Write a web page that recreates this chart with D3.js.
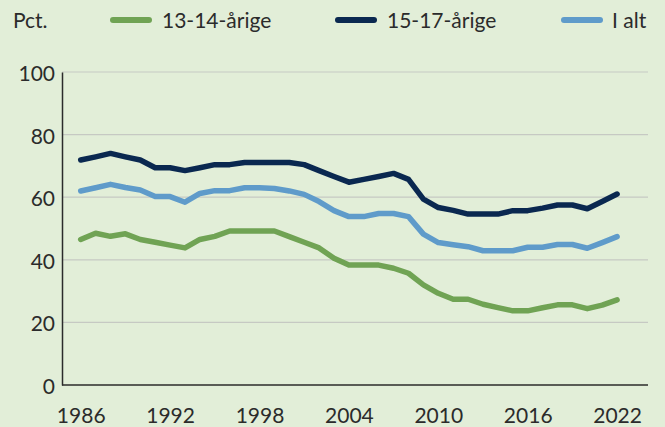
<!DOCTYPE html>
<html><head><meta charset="utf-8">
<script src="https://cdn.jsdelivr.net/npm/d3@7"></script>
<style>
html,body{margin:0;padding:0;background:#e2eed8;}
svg{display:block;font-family:Lato,"Open Sans",sans-serif;}
</style></head><body>
<svg id="c" width="665" height="427"></svg>
<script>
const years = d3.range(1986, 2023);
const seriesNames = ["13-14-årige", "15-17-årige", "I alt"];
const seriesColors = ["#70a354", "#0a2850", "#5f9bca"];
const age1314 = [46.5,48.5,47.5,48.3,46.5,45.6,44.7,43.8,46.5,47.5,49.2,49.2,49.2,49.2,47.4,45.6,43.8,40.5,38.3,38.3,38.3,37.3,35.7,32.0,29.3,27.4,27.4,25.8,24.7,23.7,23.7,24.7,25.6,25.6,24.4,25.5,27.2];
const age1517 = [71.9,72.9,74.0,72.9,71.9,69.4,69.4,68.5,69.4,70.4,70.4,71.1,71.1,71.1,71.1,70.4,68.5,66.6,64.8,65.7,66.6,67.6,65.7,59.4,56.7,55.8,54.6,54.6,54.6,55.7,55.7,56.5,57.5,57.5,56.3,58.6,61.0];
const total = [62.0,63.0,64.1,63.1,62.3,60.2,60.2,58.4,61.2,62.1,62.1,63.0,63.0,62.8,62.0,60.9,58.6,55.7,53.8,53.8,54.8,54.8,53.8,48.2,45.5,44.8,44.2,42.9,42.9,42.9,44.0,44.0,44.9,44.9,43.7,45.5,47.4];
const yTicks = [0,20,40,60,80,100];
const xTicks = [1986,1992,1998,2004,2010,2016,2022];
const yUnit = "Pct.";

(function(){
const svg = d3.select("#c");
const mLeft = 62, mRight = 648, mTop = 72, mBottom = 385;
const FS = 21, txt = "#2b2b2b";
const x = d3.scaleLinear().domain([1986, 2022]).range([80.7, 617.1]);
const y = d3.scaleLinear().domain([0, 100]).range([mBottom, mTop]);

// gridlines
svg.append("g").selectAll("line").data(yTicks.filter(d=>d>0)).join("line")
  .attr("x1", mLeft).attr("x2", mRight)
  .attr("y1", d=>y(d)).attr("y2", d=>y(d))
  .attr("stroke", "#c6c9c3").attr("stroke-width", 1.2);

// y axis
const yAxis = svg.append("g").attr("transform", `translate(${mLeft},0)`)
  .call(d3.axisLeft(y).tickValues(yTicks).tickSize(0).tickPadding(7));
yAxis.select(".domain").attr("stroke", txt).attr("stroke-width", 1.5);
yAxis.selectAll("text").attr("font-size", FS).attr("fill", txt).attr("font-family", "Lato").attr("dy", "0.4em");

// x axis
const xAxis = svg.append("g").attr("transform", `translate(0,${mBottom})`)
  .call(d3.axisBottom(x).tickValues(xTicks).tickFormat(d3.format("d")).tickSize(0).tickPadding(23));
xAxis.select(".domain").remove();
svg.append("line").attr("x1", mLeft).attr("x2", mRight).attr("y1", mBottom).attr("y2", mBottom)
  .attr("stroke", txt).attr("stroke-width", 1.5);
xAxis.selectAll("text").attr("font-size", FS).attr("fill", txt).attr("font-family", "Lato");

// lines
const allSeries = [age1314, age1517, total];
const line = d3.line().x((d,i)=>x(years[i])).y(d=>y(d));
allSeries.forEach((s, k) => {
  svg.append("path").datum(s).attr("d", line)
    .attr("fill", "none").attr("stroke", seriesColors[k]).attr("stroke-width", 5.5)
    .attr("stroke-linejoin", "round").attr("stroke-linecap", "round");
});

// legend
svg.append("text").attr("x", 13).attr("y", 28).text(yUnit)
  .attr("font-size", FS).attr("fill", txt);
const legX = [110, 335, 561];
const legTextX = [162, 387, 612];
seriesNames.forEach((n, k) => {
  svg.append("line").attr("x1", legX[k]+3).attr("x2", legX[k]+39).attr("y1", 20).attr("y2", 20)
    .attr("stroke", seriesColors[k]).attr("stroke-width", 6).attr("stroke-linecap", "round");
  svg.append("text").attr("x", legTextX[k]).attr("y", 28).text(n)
    .attr("font-size", FS).attr("fill", txt);
});
})();
</script>
</body></html>
